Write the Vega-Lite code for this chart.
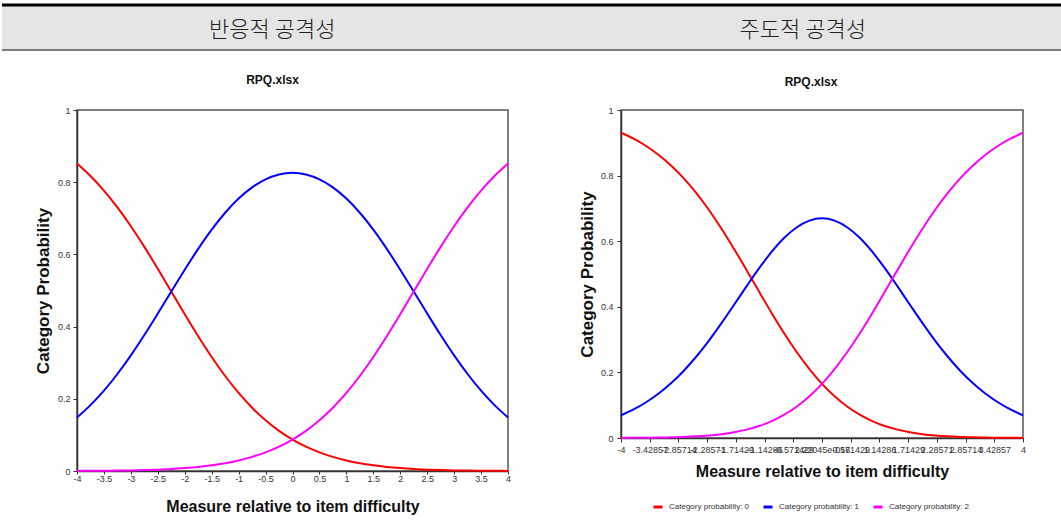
{
  "$schema": "https://vega.github.io/schema/vega-lite/v6.json",
  "padding": {"left": 0, "top": 3, "right": 0, "bottom": 0},
  "background": "white",
  "spacing": 22,
  "config": {
    "locale": {"number": {"decimal": ".", "thousands": ",", "grouping": [3], "currency": ["$", ""], "minus": "-"}},
    "font": "Liberation Sans",
    "view": {"stroke": "#555", "strokeWidth": 1.5},
    "axis": {"grid": false, "domainColor": "#333", "domainWidth": 1.5, "tickColor": "#333", "tickSize": 4, "labelColor": "#333", "labelFontSize": 9, "labelFont": "Liberation Sans", "titleFont": "Liberation Sans", "titleFontWeight": "bold", "titleColor": "#111", "labelOverlap": false, "labelFlush": false, "labelBound": false}
  },
  "datasets": {
    "left": [
      {"x":-4,"c":0,"p":0.8517},{"x":-4,"c":1,"p":0.1480},{"x":-4,"c":2,"p":0.0003},
      {"x":-3.75,"c":0,"p":0.8172},{"x":-3.75,"c":1,"p":0.1824},{"x":-3.75,"c":2,"p":0.0005},
      {"x":-3.5,"c":0,"p":0.7768},{"x":-3.5,"c":1,"p":0.2225},{"x":-3.5,"c":2,"p":0.0007},
      {"x":-3.25,"c":0,"p":0.7303},{"x":-3.25,"c":1,"p":0.2687},{"x":-3.25,"c":2,"p":0.0011},
      {"x":-3,"c":0,"p":0.6780},{"x":-3,"c":1,"p":0.3203},{"x":-3,"c":2,"p":0.0017},
      {"x":-2.75,"c":0,"p":0.6209},{"x":-2.75,"c":1,"p":0.3766},{"x":-2.75,"c":2,"p":0.0025},
      {"x":-2.5,"c":0,"p":0.5601},{"x":-2.5,"c":1,"p":0.4362},{"x":-2.5,"c":2,"p":0.0038},
      {"x":-2.25,"c":0,"p":0.4972},{"x":-2.25,"c":1,"p":0.4972},{"x":-2.25,"c":2,"p":0.0055},
      {"x":-2,"c":0,"p":0.4343},{"x":-2,"c":1,"p":0.5577},{"x":-2,"c":2,"p":0.0080},
      {"x":-1.75,"c":0,"p":0.3733},{"x":-1.75,"c":1,"p":0.6154},{"x":-1.75,"c":2,"p":0.0113},
      {"x":-1.5,"c":0,"p":0.3158},{"x":-1.5,"c":1,"p":0.6685},{"x":-1.5,"c":2,"p":0.0157},
      {"x":-1.25,"c":0,"p":0.2631},{"x":-1.25,"c":1,"p":0.7153},{"x":-1.25,"c":2,"p":0.0216},
      {"x":-1,"c":0,"p":0.2162},{"x":-1,"c":1,"p":0.7546},{"x":-1,"c":2,"p":0.0293},
      {"x":-0.75,"c":0,"p":0.1753},{"x":-0.75,"c":1,"p":0.7856},{"x":-0.75,"c":2,"p":0.0391},
      {"x":-0.5,"c":0,"p":0.1404},{"x":-0.5,"c":1,"p":0.8080},{"x":-0.5,"c":2,"p":0.0517},
      {"x":-0.25,"c":0,"p":0.1112},{"x":-0.25,"c":1,"p":0.8214},{"x":-0.25,"c":2,"p":0.0674},
      {"x":0,"c":0,"p":0.0871},{"x":0,"c":1,"p":0.8259},{"x":0,"c":2,"p":0.0871},
      {"x":0.25,"c":0,"p":0.0674},{"x":0.25,"c":1,"p":0.8214},{"x":0.25,"c":2,"p":0.1112},
      {"x":0.5,"c":0,"p":0.0517},{"x":0.5,"c":1,"p":0.8080},{"x":0.5,"c":2,"p":0.1404},
      {"x":0.75,"c":0,"p":0.0391},{"x":0.75,"c":1,"p":0.7856},{"x":0.75,"c":2,"p":0.1753},
      {"x":1,"c":0,"p":0.0293},{"x":1,"c":1,"p":0.7546},{"x":1,"c":2,"p":0.2162},
      {"x":1.25,"c":0,"p":0.0216},{"x":1.25,"c":1,"p":0.7153},{"x":1.25,"c":2,"p":0.2631},
      {"x":1.5,"c":0,"p":0.0157},{"x":1.5,"c":1,"p":0.6685},{"x":1.5,"c":2,"p":0.3158},
      {"x":1.75,"c":0,"p":0.0113},{"x":1.75,"c":1,"p":0.6154},{"x":1.75,"c":2,"p":0.3733},
      {"x":2,"c":0,"p":0.0080},{"x":2,"c":1,"p":0.5577},{"x":2,"c":2,"p":0.4343},
      {"x":2.25,"c":0,"p":0.0055},{"x":2.25,"c":1,"p":0.4972},{"x":2.25,"c":2,"p":0.4972},
      {"x":2.5,"c":0,"p":0.0038},{"x":2.5,"c":1,"p":0.4362},{"x":2.5,"c":2,"p":0.5601},
      {"x":2.75,"c":0,"p":0.0025},{"x":2.75,"c":1,"p":0.3766},{"x":2.75,"c":2,"p":0.6209},
      {"x":3,"c":0,"p":0.0017},{"x":3,"c":1,"p":0.3203},{"x":3,"c":2,"p":0.6780},
      {"x":3.25,"c":0,"p":0.0011},{"x":3.25,"c":1,"p":0.2687},{"x":3.25,"c":2,"p":0.7303},
      {"x":3.5,"c":0,"p":0.0007},{"x":3.5,"c":1,"p":0.2225},{"x":3.5,"c":2,"p":0.7768},
      {"x":3.75,"c":0,"p":0.0005},{"x":3.75,"c":1,"p":0.1824},{"x":3.75,"c":2,"p":0.8172},
      {"x":4,"c":0,"p":0.0003},{"x":4,"c":1,"p":0.1480},{"x":4,"c":2,"p":0.8517}
    ],
    "right": [
      {"x":-4,"c":0,"p":0.9306},{"x":-4,"c":1,"p":0.0691},{"x":-4,"c":2,"p":0.0003},
      {"x":-3.75,"c":0,"p":0.9125},{"x":-3.75,"c":1,"p":0.0870},{"x":-3.75,"c":2,"p":0.0005},
      {"x":-3.5,"c":0,"p":0.8902},{"x":-3.5,"c":1,"p":0.1090},{"x":-3.5,"c":2,"p":0.0008},
      {"x":-3.25,"c":0,"p":0.8630},{"x":-3.25,"c":1,"p":0.1357},{"x":-3.25,"c":2,"p":0.0013},
      {"x":-3,"c":0,"p":0.8303},{"x":-3,"c":1,"p":0.1676},{"x":-3,"c":2,"p":0.0021},
      {"x":-2.75,"c":0,"p":0.7916},{"x":-2.75,"c":1,"p":0.2052},{"x":-2.75,"c":2,"p":0.0032},
      {"x":-2.5,"c":0,"p":0.7465},{"x":-2.5,"c":1,"p":0.2485},{"x":-2.5,"c":2,"p":0.0050},
      {"x":-2.25,"c":0,"p":0.6952},{"x":-2.25,"c":1,"p":0.2971},{"x":-2.25,"c":2,"p":0.0077},
      {"x":-2,"c":0,"p":0.6381},{"x":-2,"c":1,"p":0.3502},{"x":-2,"c":2,"p":0.0117},
      {"x":-1.75,"c":0,"p":0.5764},{"x":-1.75,"c":1,"p":0.4062},{"x":-1.75,"c":2,"p":0.0174},
      {"x":-1.5,"c":0,"p":0.5116},{"x":-1.5,"c":1,"p":0.4629},{"x":-1.5,"c":2,"p":0.0255},
      {"x":-1.25,"c":0,"p":0.4457},{"x":-1.25,"c":1,"p":0.5178},{"x":-1.25,"c":2,"p":0.0366},
      {"x":-1,"c":0,"p":0.3806},{"x":-1,"c":1,"p":0.5679},{"x":-1,"c":2,"p":0.0515},
      {"x":-0.75,"c":0,"p":0.3186},{"x":-0.75,"c":1,"p":0.6103},{"x":-0.75,"c":2,"p":0.0711},
      {"x":-0.5,"c":0,"p":0.2613},{"x":-0.5,"c":1,"p":0.6426},{"x":-0.5,"c":2,"p":0.0961},
      {"x":-0.25,"c":0,"p":0.2099},{"x":-0.25,"c":1,"p":0.6628},{"x":-0.25,"c":2,"p":0.1273},
      {"x":0,"c":0,"p":0.1652},{"x":0,"c":1,"p":0.6697},{"x":0,"c":2,"p":0.1652},
      {"x":0.25,"c":0,"p":0.1273},{"x":0.25,"c":1,"p":0.6628},{"x":0.25,"c":2,"p":0.2099},
      {"x":0.5,"c":0,"p":0.0961},{"x":0.5,"c":1,"p":0.6426},{"x":0.5,"c":2,"p":0.2613},
      {"x":0.75,"c":0,"p":0.0711},{"x":0.75,"c":1,"p":0.6103},{"x":0.75,"c":2,"p":0.3186},
      {"x":1,"c":0,"p":0.0515},{"x":1,"c":1,"p":0.5679},{"x":1,"c":2,"p":0.3806},
      {"x":1.25,"c":0,"p":0.0366},{"x":1.25,"c":1,"p":0.5178},{"x":1.25,"c":2,"p":0.4457},
      {"x":1.5,"c":0,"p":0.0255},{"x":1.5,"c":1,"p":0.4629},{"x":1.5,"c":2,"p":0.5116},
      {"x":1.75,"c":0,"p":0.0174},{"x":1.75,"c":1,"p":0.4062},{"x":1.75,"c":2,"p":0.5764},
      {"x":2,"c":0,"p":0.0117},{"x":2,"c":1,"p":0.3502},{"x":2,"c":2,"p":0.6381},
      {"x":2.25,"c":0,"p":0.0077},{"x":2.25,"c":1,"p":0.2971},{"x":2.25,"c":2,"p":0.6952},
      {"x":2.5,"c":0,"p":0.0050},{"x":2.5,"c":1,"p":0.2485},{"x":2.5,"c":2,"p":0.7465},
      {"x":2.75,"c":0,"p":0.0032},{"x":2.75,"c":1,"p":0.2052},{"x":2.75,"c":2,"p":0.7916},
      {"x":3,"c":0,"p":0.0021},{"x":3,"c":1,"p":0.1676},{"x":3,"c":2,"p":0.8303},
      {"x":3.25,"c":0,"p":0.0013},{"x":3.25,"c":1,"p":0.1357},{"x":3.25,"c":2,"p":0.8630},
      {"x":3.5,"c":0,"p":0.0008},{"x":3.5,"c":1,"p":0.1090},{"x":3.5,"c":2,"p":0.8902},
      {"x":3.75,"c":0,"p":0.0005},{"x":3.75,"c":1,"p":0.0870},{"x":3.75,"c":2,"p":0.9125},
      {"x":4,"c":0,"p":0.0003},{"x":4,"c":1,"p":0.0691},{"x":4,"c":2,"p":0.9306}
    ]
  },
  "vconcat": [
    {
      "width": 1061,
      "height": 45,
      "view": {"fill": "#e5e5e5", "stroke": null},
      "layer": [
        {
          "data": {"values": [{}]},
          "mark": {"type": "rule", "color": "#000", "strokeWidth": 3},
          "encoding": {"y": {"datum": 1, "type": "quantitative", "scale": {"domain": [0, 1]}, "axis": null}}
        },
        {
          "data": {"values": [{}]},
          "mark": {"type": "rule", "color": "#555", "strokeWidth": 1.5},
          "encoding": {"y": {"datum": 0, "type": "quantitative", "scale": {"domain": [0, 1]}, "axis": null}}
        },
        {
          "data": {"values": [{"t": "반응적 공격성"}, {"t": "주도적 공격성"}]},
          "mark": {"type": "text", "font": "Noto Sans CJK KR", "fontSize": 22, "fontWeight": 300, "color": "#222", "dx": 5, "dy": 2},
          "encoding": {
            "x": {"field": "t", "type": "nominal", "sort": null, "axis": null},
            "text": {"field": "t"}
          }
        }
      ]
    },
    {
      "spacing": 0,
      "resolve": {"scale": {"color": "independent"}, "legend": {"color": "independent"}},
      "hconcat": [
        {
          "width": 31, "height": 10,
          "view": {"stroke": null},
          "data": {"values": []},
          "mark": "point",
          "encoding": {}
        },
        {
          "width": 431,
          "height": 361,
          "data": {"name": "left"},
          "title": {"text": "RPQ.xlsx", "fontSize": 12, "fontWeight": "bold", "font": "Liberation Sans", "color": "#111", "anchor": "middle", "frame": "group", "dx": -20, "offset": 19},
          "mark": {"type": "line", "strokeWidth": 2, "interpolate": "monotone"},
          "encoding": {
            "x": {"field": "x", "type": "quantitative", "scale": {"domain": [-4, 4], "nice": false},
              "axis": {"values": [-4,-3.5,-3,-2.5,-2,-1.5,-1,-0.5,0,0.5,1,1.5,2,2.5,3,3.5,4], "format": "~g", "title": "Measure relative to item difficulty", "titleFontSize": 16, "titlePadding": 15, "tickSize": 3, "labelPadding": 0}},
            "y": {"field": "p", "type": "quantitative", "scale": {"domain": [0, 1], "nice": false},
              "axis": {"values": [0,0.2,0.4,0.6,0.8,1], "format": "~g", "title": "Category Probability", "titleFontSize": 17, "titlePadding": 5, "labelPadding": 3}},
            "color": {"field": "c", "type": "nominal", "scale": {"domain": [0, 1, 2], "range": ["#ff0000", "#0000ff", "#ff00ff"]}, "legend": null}
          }
        },
        {
          "width": 64, "height": 10,
          "view": {"stroke": null},
          "data": {"values": []},
          "mark": "point",
          "encoding": {}
        },
        {
          "width": 402,
          "height": 328,
          "data": {"name": "right"},
          "title": {"text": "RPQ.xlsx", "fontSize": 12, "fontWeight": "bold", "font": "Liberation Sans", "color": "#111", "anchor": "middle", "frame": "group", "dx": -11, "offset": 17},
          "mark": {"type": "line", "strokeWidth": 2, "interpolate": "monotone"},
          "encoding": {
            "x": {"field": "x", "type": "quantitative", "scale": {"domain": [-4, 4], "nice": false},
              "axis": {"values": [-4,-3.428571,-2.857143,-2.285714,-1.714286,-1.142857,-0.571429,0,0.571429,1.142857,1.714286,2.285714,2.857143,3.428571,4], "labelExpr": "datum.value == 0 ? '2.22045e-016' : format(datum.value, '.6~g')", "title": "Measure relative to item difficulty", "titleFontSize": 16, "titlePadding": 9, "labelPadding": 3}},
            "y": {"field": "p", "type": "quantitative", "scale": {"domain": [0, 1], "nice": false},
              "axis": {"values": [0,0.2,0.4,0.6,0.8,1], "format": "~g", "title": "Category Probability", "titleFontSize": 17, "titlePadding": 4, "labelPadding": 4}},
            "color": {"field": "c", "type": "nominal", "scale": {"domain": [0, 1, 2], "range": ["#ff0000", "#0000ff", "#ff00ff"]},
              "legend": {"orient": "none", "legendX": 31, "legendY": 391, "direction": "horizontal", "title": null, "padding": 0, "symbolType": "stroke", "symbolStrokeWidth": 3, "symbolSize": 81, "labelFontSize": 8, "labelColor": "#333", "labelFont": "Liberation Sans", "labelOffset": 5, "columnPadding": 7, "labelExpr": "'Category probability: ' + datum.label"}}
          }
        }
      ]
    }
  ]
}
